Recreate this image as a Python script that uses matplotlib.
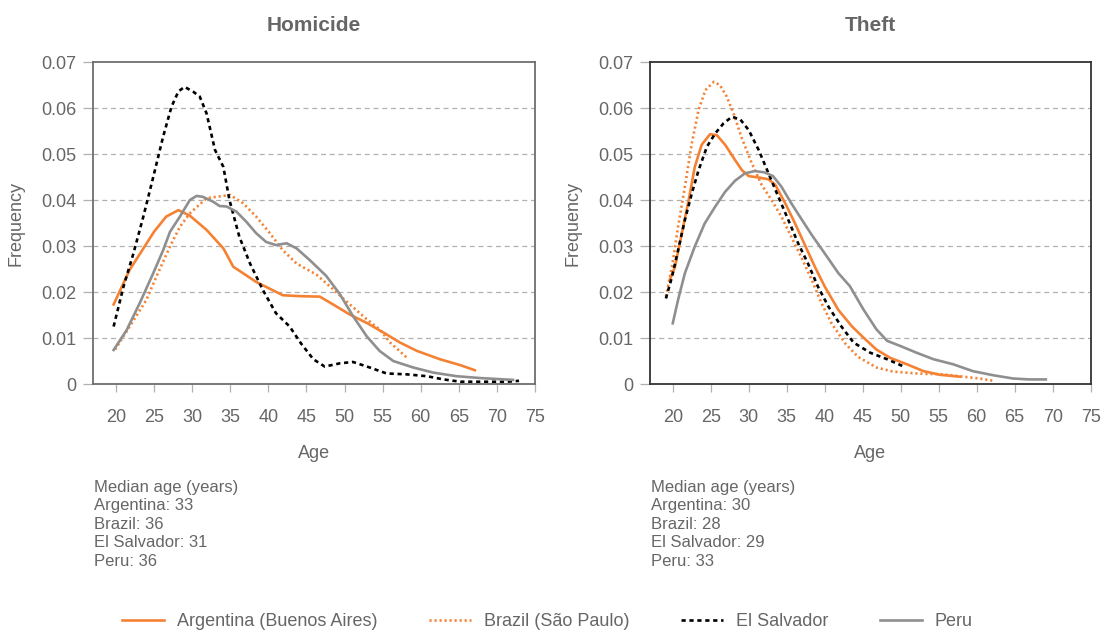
import numpy as np
import matplotlib
matplotlib.use("Agg")
from matplotlib import pyplot as plt
from matplotlib.lines import Line2D

plt.rcParams['font.family'] = ['Liberation Sans', 'DejaVu Sans']

GREY_TXT = '#666666'
ORANGE = '#f58233'
PERU_GREY = '#8f8f8f'

# Homicide: age / frequency pairs
hom_arg_age = [19.7, 21.8, 25.0, 26.6, 28.2, 29.7, 31.9, 34.1, 35.4, 38.4, 41.9, 44.1, 46.75, 48.5, 50.7, 52.9, 55.1, 57.3, 59.5, 62.5, 65.2, 67.1]
hom_arg_frq = [0.0173, 0.0248, 0.0331, 0.0364, 0.0378, 0.0366, 0.0335, 0.0295, 0.0255, 0.0222, 0.0193, 0.0191, 0.0190, 0.0173, 0.0151, 0.0133, 0.0112, 0.0090, 0.0072, 0.0054, 0.0041, 0.0030]

hom_bra_age = [19.9, 21.8, 24.0, 25.3, 27.1, 28.4, 29.7, 31.9, 34.1, 35.0, 36.7, 38.4, 40.2, 41.9, 43.7, 46.3, 48.5, 50.7, 52.9, 54.6, 56.0, 58.2]
hom_bra_frq = [0.0075, 0.0125, 0.0183, 0.0233, 0.0299, 0.0342, 0.0371, 0.0404, 0.0409, 0.0411, 0.0393, 0.0364, 0.0328, 0.0291, 0.0262, 0.0238, 0.0206, 0.0173, 0.0141, 0.0119, 0.0090, 0.0057]

hom_slv_age = [19.7, 21.0, 22.3, 23.6, 24.9, 26.2, 27.3, 28.2, 29.0, 30.1, 31.0, 31.9, 33.0, 34.1, 34.9, 36.2, 37.6, 39.3, 41.0, 42.8, 44.3, 45.9, 47.4, 49.4, 51.1, 53.3, 55.5, 58.2, 60.8, 63.0, 65.2, 67.8, 71.3, 72.9]
hom_slv_frq = [0.0125, 0.0212, 0.0284, 0.0364, 0.0450, 0.0538, 0.0603, 0.0636, 0.0646, 0.0636, 0.0625, 0.0588, 0.0509, 0.0472, 0.0400, 0.0320, 0.0262, 0.0204, 0.0154, 0.0125, 0.0088, 0.0054, 0.0038, 0.0045, 0.0048, 0.0036, 0.0023, 0.0021, 0.0017, 0.0010, 0.0005, 0.0005, 0.0005, 0.0007]

hom_per_age = [19.7, 21.4, 23.1, 24.9, 26.2, 27.1, 28.4, 29.7, 30.6, 31.4, 32.8, 33.6, 34.5, 35.8, 37.1, 38.4, 39.7, 41.0, 42.4, 43.7, 45.4, 47.6, 49.4, 51.1, 52.9, 54.6, 56.4, 59.0, 61.6, 64.7, 67.8, 72.1]
hom_per_frq = [0.0074, 0.0117, 0.0175, 0.0241, 0.0291, 0.0331, 0.0364, 0.0400, 0.0409, 0.0407, 0.0396, 0.0387, 0.0386, 0.0375, 0.0353, 0.0328, 0.0309, 0.0302, 0.0306, 0.0295, 0.0270, 0.0235, 0.0195, 0.0148, 0.0104, 0.0072, 0.0050, 0.0036, 0.0025, 0.0017, 0.0013, 0.0009]

# Theft
th_arg_age = [19.6, 20.3, 21.2, 22.1, 22.9, 23.8, 24.9, 25.8, 26.9, 28.2, 29.1, 30.0, 31.3, 32.6, 33.5, 34.8, 36.1, 37.4, 38.7, 40.0, 41.8, 43.6, 45.1, 46.8, 48.6, 50.8, 53.0, 55.2, 57.8]
th_arg_frq = [0.0226, 0.0255, 0.0328, 0.0400, 0.0472, 0.0520, 0.0543, 0.0541, 0.0520, 0.0487, 0.0465, 0.0452, 0.0449, 0.0445, 0.0433, 0.0393, 0.0349, 0.0302, 0.0255, 0.0212, 0.0161, 0.0125, 0.0101, 0.0075, 0.0057, 0.0043, 0.0028, 0.0020, 0.0016]

th_bra_age = [19.1, 19.9, 20.7, 21.6, 22.5, 23.4, 24.3, 25.4, 26.2, 27.1, 28.0, 29.1, 30.4, 31.7, 33.0, 34.3, 35.6, 37.0, 38.3, 39.6, 40.9, 42.7, 44.4, 46.8, 49.0, 52.1, 55.6, 58.2, 60.4, 62.2]
th_bra_frq = [0.0190, 0.0255, 0.0342, 0.0429, 0.0523, 0.0596, 0.0639, 0.0657, 0.0650, 0.0625, 0.0588, 0.0534, 0.0480, 0.0433, 0.0400, 0.0364, 0.0320, 0.0273, 0.0226, 0.0175, 0.0132, 0.0088, 0.0059, 0.0036, 0.0027, 0.0023, 0.0021, 0.0016, 0.0012, 0.0007]

th_slv_age = [19.1, 19.9, 20.7, 21.6, 22.5, 23.4, 24.5, 25.6, 26.7, 27.8, 28.9, 30.0, 31.3, 32.6, 33.9, 35.2, 36.5, 37.8, 39.1, 40.5, 42.2, 43.8, 46.0, 48.2, 50.4]
th_slv_frq = [0.0186, 0.0233, 0.0291, 0.0357, 0.0414, 0.0465, 0.0516, 0.0545, 0.0567, 0.0581, 0.0575, 0.0552, 0.0509, 0.0458, 0.0407, 0.0357, 0.0306, 0.0262, 0.0212, 0.0168, 0.0125, 0.0090, 0.0068, 0.0054, 0.0038]

th_per_age = [20.0, 20.7, 21.6, 22.9, 24.2, 25.6, 26.9, 28.2, 29.5, 30.8, 32.1, 33.2, 34.3, 35.6, 37.0, 38.3, 40.0, 41.8, 43.3, 45.1, 46.8, 48.2, 49.9, 52.1, 54.3, 56.9, 59.5, 62.2, 64.8, 66.9, 69.1]
th_per_frq = [0.0132, 0.0183, 0.0241, 0.0299, 0.0349, 0.0386, 0.0418, 0.0442, 0.0458, 0.0463, 0.0460, 0.0452, 0.0429, 0.0393, 0.0357, 0.0324, 0.0284, 0.0241, 0.0213, 0.0162, 0.0119, 0.0094, 0.0083, 0.0068, 0.0054, 0.0043, 0.0028, 0.0019, 0.0012, 0.0010, 0.0010]

legend_labels = ['Argentina (Buenos Aires)', 'Brazil (São Paulo)', 'El Salvador', 'Peru']
medians_hom = [33, 36, 31, 36]
medians_th = [30, 28, 29, 33]
median_names = ['Argentina', 'Brazil', 'El Salvador', 'Peru']

x_ticks = list(range(20, 80, 5))
y_ticks = [0, 0.01, 0.02, 0.03, 0.04, 0.05, 0.06, 0.07]

styles = [
    dict(color=ORANGE, lw=1.9, ls='-'),
    dict(color=ORANGE, lw=1.9, ls=(0, (0.8, 1.1))),
    dict(color='black', lw=1.9, ls=(0, (1.6, 1.4))),
    dict(color=PERU_GREY, lw=1.9, ls='-'),
]

FS = 13

fig = plt.figure(figsize=(11.05, 6.31), dpi=100)
ax1 = fig.add_axes([0.0842, 0.3914, 0.400, 0.5103])
ax2 = fig.add_axes([0.5882, 0.3914, 0.3988, 0.5103])


def draw_panel(ax, title, series, spine_col):
    for (a, f), st in zip(series, styles):
        ax.plot(a, f, **st)
    ax.set_xlim(17, 75)
    ax.set_ylim(0, 0.07)
    ax.set_xticks(x_ticks)
    ax.set_yticks(y_ticks)
    ax.set_yticklabels(['0'] + ['%.2f' % v for v in y_ticks[1:]])
    for v in y_ticks[1:-1]:
        ax.axhline(v, color='#b0b0b0', lw=0.9, ls=(0, (4, 3)), zorder=0)
    for s in ax.spines.values():
        s.set_color(spine_col)
        s.set_linewidth(1.3)
    ax.tick_params(axis='y', direction='out', length=7, width=0.9, color='#b0b0b0',
                   labelsize=FS, labelcolor=GREY_TXT, pad=5)
    ax.tick_params(axis='x', direction='out', length=6, width=0.9, color='#b0b0b0',
                   labelsize=FS, labelcolor=GREY_TXT, pad=12)
    ax.set_xlabel('Age', fontsize=FS, color=GREY_TXT, labelpad=14)
    ax.set_ylabel('Frequency', fontsize=FS, color=GREY_TXT, labelpad=12)
    ax.set_title(title, fontsize=15, fontweight='bold', color=GREY_TXT, pad=22)


draw_panel(ax1, 'Homicide', [(hom_arg_age, hom_arg_frq), (hom_bra_age, hom_bra_frq),
                             (hom_slv_age, hom_slv_frq), (hom_per_age, hom_per_frq)], '#6e6e6e')
draw_panel(ax2, 'Theft', [(th_arg_age, th_arg_frq), (th_bra_age, th_bra_frq),
                          (th_slv_age, th_slv_frq), (th_per_age, th_per_frq)], '#333333')

# median age notes under each panel
for x0, meds in [(94 / 1105, medians_hom), (651 / 1105, medians_th)]:
    lines = ['Median age (years)'] + ['%s: %d' % (n, m) for n, m in zip(median_names, meds)]
    fig.text(x0, 1 - 480 / 631, '\n'.join(lines), ha='left', va='top', fontsize=12,
             color=GREY_TXT, linespacing=1.29)

handles = [Line2D([], [], **st) for st in styles]
fig.legend(handles, legend_labels, loc='center', bbox_to_anchor=(0.5 - 5 / 1105, 1 - 622 / 631), ncol=4,
           frameon=False, fontsize=FS, labelcolor=GREY_TXT, handlelength=2.3,
           handletextpad=0.7, columnspacing=2.9)

fig.savefig('out.png', dpi=100)
